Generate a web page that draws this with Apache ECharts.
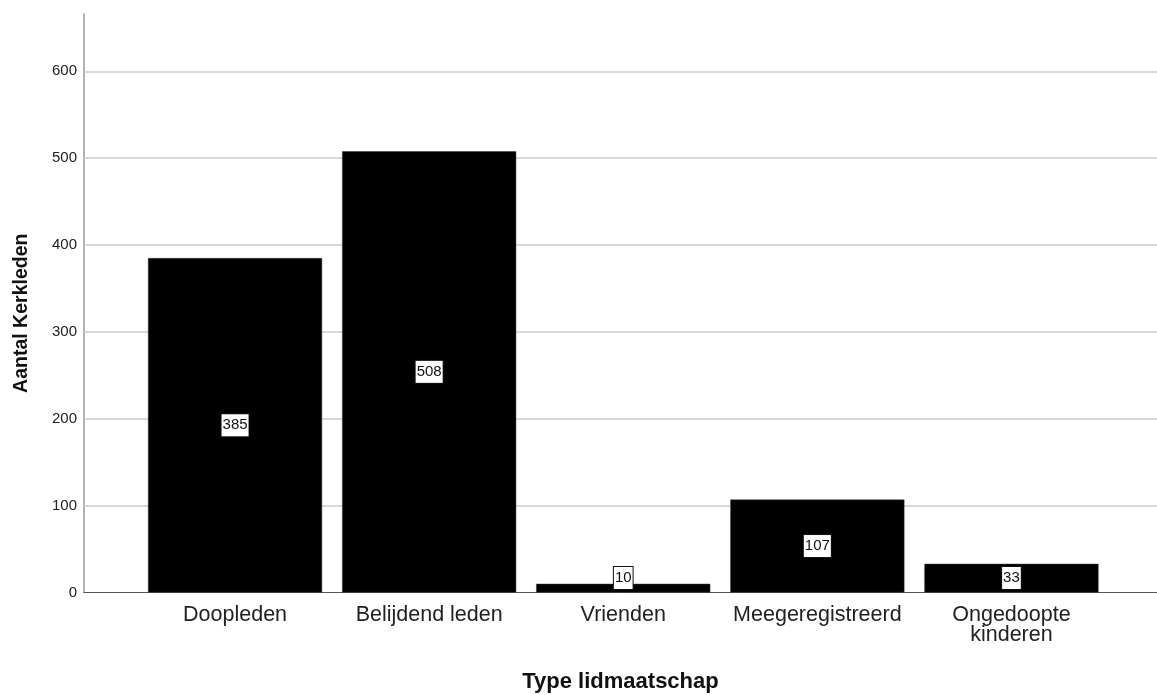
<!DOCTYPE html>
<html>
<head>
<meta charset="utf-8">
<script src="https://cdn.jsdelivr.net/npm/echarts@6/dist/echarts.min.js"></script>
<style>
html,body{margin:0;padding:0;background:#fff;}
#chart{width:1157px;height:695px;}
</style>
</head>
<body>
<div id="chart"></div>
<script>
var categories = ['Doopleden', 'Belijdend leden', 'Vrienden', 'Meegeregistreerd', 'Ongedoopte\nkinderen'];
var counts = [385, 508, 10, 107, 33];
var gridValues = [100, 200, 300, 400, 500, 600];
var yMin = 0;
var yMax = 666;
var yInterval = 100;
var xTitle = 'Type lidmaatschap';
var yTitle = 'Aantal Kerkleden';

var font = '"Liberation Sans", Arial, sans-serif';
var gridTop = 14, gridBottom = 102.5, chartHeight = 695;
var chart = echarts.init(document.getElementById('chart'), null, {renderer: 'canvas'});
chart.setOption({
  animation: false,
  backgroundColor: '#ffffff',
  grid: [
    {left: 84, right: 0, top: gridTop, bottom: gridBottom, containLabel: false, outerBoundsMode: 'none'},
    {left: 138, right: 48.5, top: gridTop, bottom: gridBottom, containLabel: false, outerBoundsMode: 'none'}
  ],
  xAxis: [
    {
      gridIndex: 0, type: 'value', min: 0, max: 1,
      axisLine: {show: true, onZero: false, lineStyle: {color: '#555555', width: 1}},
      axisTick: {show: false}, axisLabel: {show: false}, splitLine: {show: false},
      name: xTitle, nameLocation: 'middle', nameGap: 78,
      nameTextStyle: {fontFamily: font, fontSize: 22, fontWeight: 'bold', color: '#111111'}
    },
    {
      gridIndex: 1, type: 'category', data: categories,
      axisLine: {show: false}, axisTick: {show: false},
      axisLabel: {fontFamily: font, fontSize: 21.5, color: '#222222', margin: 13, lineHeight: 20, interval: 0}
    }
  ],
  yAxis: [
    {
      gridIndex: 0, type: 'value', min: yMin, max: yMax, interval: yInterval,
      axisLine: {show: true, lineStyle: {color: '#9a9a9a', width: 1.5}},
      axisTick: {show: false},
      axisLabel: {fontFamily: font, fontSize: 15, color: '#222222', margin: 7, showMaxLabel: false,
        formatter: function (v) { return v % yInterval === 0 ? String(v) : ''; }},
      splitLine: {show: false},
      name: yTitle, nameLocation: 'middle', nameGap: 52,
      nameTextStyle: {fontFamily: font, fontSize: 19.5, fontWeight: 'bold', color: '#111111', padding: [0, 20, 0, 0]}
    },
    {
      gridIndex: 1, type: 'value', min: yMin, max: yMax, interval: yInterval, show: false
    }
  ],
  series: [
    {
      type: 'line', xAxisIndex: 0, yAxisIndex: 0, data: [], z: 1,
      markLine: {
        silent: true, symbol: 'none', label: {show: false}, z: 1,
        lineStyle: {color: '#cccccc', width: 1.5, type: 'solid'},
        data: gridValues.map(function (v) { return {yAxis: v}; })
      }
    },
    {
      type: 'bar', xAxisIndex: 1, yAxisIndex: 1, data: counts, z: 10,
      barCategoryGap: '10.3%',
      itemStyle: {color: '#000000', borderColor: '#3a3a3a', borderWidth: 0.5},
      label: {
        show: true, position: 'inside', fontFamily: font, fontSize: 15, color: '#111111',
        backgroundColor: '#ffffff', borderColor: '#111111', borderWidth: 1, padding: [4, 1, 3, 1]
      },
      labelLayout: function (params) {
        var limit = chartHeight - gridBottom - 2.5;
        var r = params.labelRect;
        var bottom = r.y + r.height;
        if (bottom > limit) {
          return {dy: limit - bottom};
        }
        return {};
      }
    }
  ]
});
</script>
</body>
</html>
